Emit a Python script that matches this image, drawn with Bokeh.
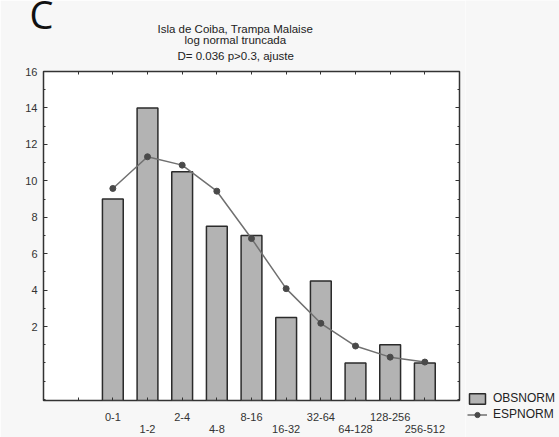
from bokeh.plotting import figure
from bokeh.layouts import row
from bokeh.models import FixedTicker, LinearAxis, Range1d, Legend, LegendItem, Title
from bokeh.embed import file_html
from bokeh.resources import INLINE

panel_letter = "C"
title_lines = ["Isla de Coiba, Trampa Malaise", "log normal truncada", "D= 0.036 p>0.3, ajuste"]
classes = ["0-1", "1-2", "2-4", "4-8", "8-16", "16-32", "32-64", "64-128", "128-256", "256-512"]
obsnorm = [9, 14, 10.5, 7.5, 7, 2.5, 4.5, 0, 1, 0]
espnorm = [9.58, 11.32, 10.86, 9.43, 6.83, 4.08, 2.18, 0.93, 0.32, 0.05]
y_ticks = [2, 4, 6, 8, 10, 12, 14, 16]
y_minor = list(range(-2, 17))

FONT = "Liberation Sans"
BG = "#f7f7f7"
BAR_STYLE = dict(fill_color="#b3b3b3", line_color="#2b2b2b", line_width=1.5)
LINE_STYLE = dict(line_color="#707070", line_width=1.5)
DOT_STYLE = dict(size=6, fill_color="#4a4a4a", line_color="#4a4a4a")
xs = list(range(len(classes)))
x_ticks = [-1] + xs

p = figure(width=465, height=437, output_backend="svg", toolbar_location=None,
           x_range=Range1d(-2, 10), y_range=Range1d(-2.06, 16),
           x_axis_location=None, y_axis_location=None,
           min_border_left=43, min_border_right=6, min_border_top=71, min_border_bottom=37)
p.border_fill_color = BG
p.background_fill_color = "white"
p.outline_line_color = "#333333"
p.outline_line_width = 1.5
p.grid.visible = False

def style_axis(ax, tick_len=4, minor_len=2):
    ax.axis_line_color = None
    ax.major_tick_in = tick_len
    ax.major_tick_out = 0
    ax.minor_tick_in = minor_len
    ax.minor_tick_out = 0
    ax.major_tick_line_color = "#333333"
    ax.minor_tick_line_color = "#333333"
    ax.major_label_text_font = FONT
    ax.major_label_text_font_size = "11px"
    ax.major_label_text_color = "#333333"
    ax.major_label_standoff = 0

left = LinearAxis(ticker=FixedTicker(ticks=y_ticks, minor_ticks=y_minor))
style_axis(left)
left.major_label_standoff = 6
p.add_layout(left, "left")

right = LinearAxis(ticker=FixedTicker(ticks=y_ticks, minor_ticks=y_minor))
style_axis(right)
right.major_label_overrides = {t: "" for t in y_ticks}
p.add_layout(right, "right")

top = LinearAxis(ticker=FixedTicker(ticks=x_ticks))
style_axis(top, 3, 0)
top.major_label_overrides = {t: "" for t in x_ticks}
p.add_layout(top, "above")

bottom1 = LinearAxis(ticker=FixedTicker(ticks=x_ticks))
style_axis(bottom1, 3, 0)
bottom1.major_label_standoff = 12
bottom1.major_label_overrides = {i: (classes[i] if i >= 0 and i % 2 == 0 else "") for i in x_ticks}
p.add_layout(bottom1, "below")

bottom2 = LinearAxis(ticker=FixedTicker(ticks=[i for i in xs if i % 2 == 1]))
style_axis(bottom2, 0, 0)
bottom2.major_tick_line_color = None
bottom2.major_label_standoff = 1
bottom2.major_label_overrides = {i: classes[i] for i in xs if i % 2 == 1}
p.add_layout(bottom2, "below")

bar_base = p.y_range.start
p.vbar(x=xs, top=obsnorm, bottom=bar_base, width=0.6, **BAR_STYLE)
p.line(xs, espnorm, **LINE_STYLE)
p.scatter(xs, espnorm, **DOT_STYLE)

# title lines stacked outward from the frame: last line first
for t, so, off in zip(reversed(title_lines), [19, -14, 8], [134, 141, 114]):
    p.add_layout(Title(text=t, align="left", offset=off, standoff=so,
                       text_font=FONT, text_font_size="11.5px", text_font_style="normal",
                       text_color="#222222"), "above")

p.add_layout(Title(text=panel_letter, align="left", offset=-14, standoff=-47,
                   text_font="Open Sans", text_font_size="38px", text_font_style="normal",
                   text_color="#111111"), "above")

# legend strip to the right of the plot
lg = figure(width=94, height=437, output_backend="svg", toolbar_location=None,
            x_range=Range1d(0, 1), y_range=Range1d(0, 1),
            x_axis_location=None, y_axis_location=None,
            min_border_left=0, min_border_right=0, min_border_top=0, min_border_bottom=0)
lg.border_fill_color = BG
lg.background_fill_color = BG
lg.outline_line_color = None
lg.grid.visible = False
legend_y = 16
if "frame_align" in lg.properties():
    lg.frame_align = False
    p.frame_align = False
else:
    legend_y = 0
nan = float("nan")
r_bar = lg.vbar(x=[nan], top=[nan], width=0.6, **BAR_STYLE)
r_line = lg.line([nan], [nan], **LINE_STYLE)
r_dot = lg.scatter([nan], [nan], **DOT_STYLE)
legend = Legend(items=[LegendItem(label="OBSNORM", renderers=[r_bar]),
                       LegendItem(label="ESPNORM", renderers=[r_line, r_dot])],
                location=(2, legend_y), glyph_width=20, glyph_height=13, label_height=13,
                label_standoff=6, spacing=2, padding=0, margin=0,
                border_line_color=None, background_fill_alpha=0,
                label_text_font=FONT, label_text_font_size="12px", label_text_color="#222222")
lg.add_layout(legend)

layout = row(p, lg, spacing=0)
open("out.html", "w").write(file_html(layout, INLINE))
